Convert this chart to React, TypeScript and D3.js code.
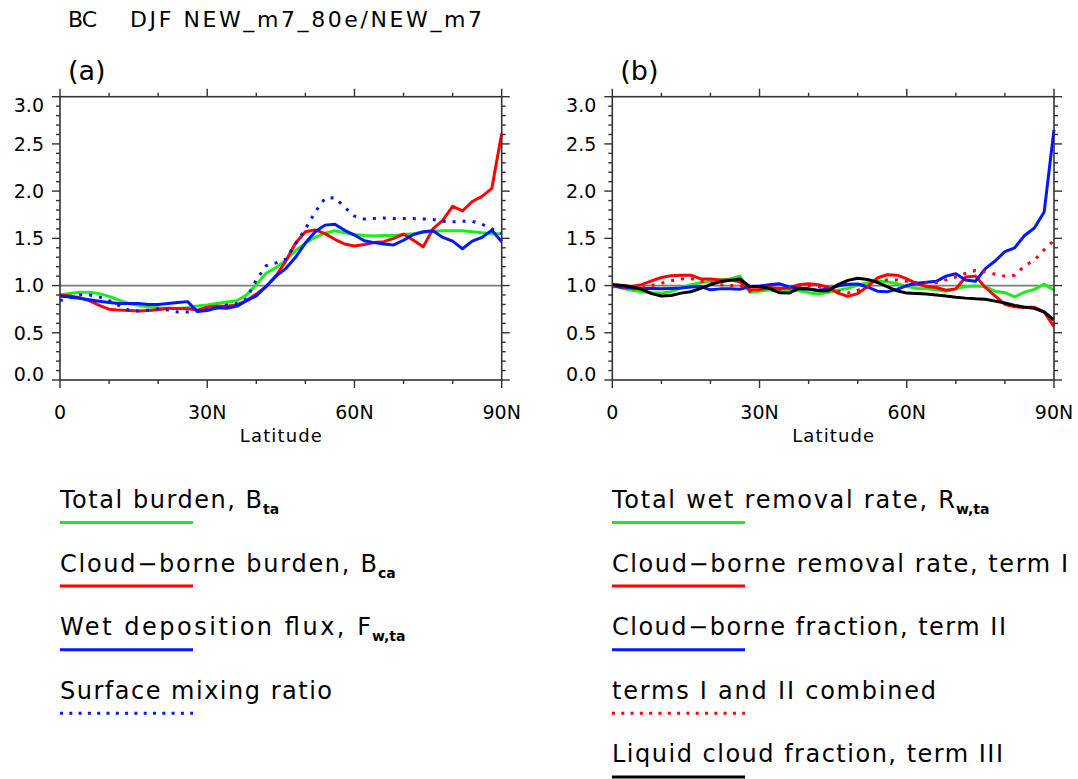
import React from 'react';
import * as d3 from 'd3';

// latitude grid (degrees N)
const lat = [0, 2, 4, 6, 8, 10, 12, 14, 16, 18, 20, 22, 24, 26, 28, 30, 32, 34, 36, 38, 40, 42, 44,
  46, 48, 50, 52, 54, 56, 58, 60, 62, 64, 66, 68, 70, 72, 74, 76, 78, 80, 82, 84, 86, 88, 90];

// panel (a)
const totalBurden = [0.90, 0.915, 0.93, 0.93, 0.915, 0.885, 0.845, 0.81, 0.79, 0.775, 0.765, 0.758, 0.758,
  0.765, 0.785, 0.795, 0.81, 0.825, 0.84, 0.90, 1.01, 1.13, 1.19, 1.27, 1.37, 1.45, 1.51, 1.555, 1.58,
  1.56, 1.54, 1.53, 1.525, 1.53, 1.53, 1.54, 1.55, 1.565, 1.575, 1.58, 1.58, 1.58, 1.57, 1.56, 1.55, 1.55];
const cloudBurden = [0.90, 0.89, 0.87, 0.84, 0.79, 0.75, 0.74, 0.735, 0.73, 0.735, 0.745, 0.76, 0.758,
  0.755, 0.74, 0.77, 0.78, 0.78, 0.795, 0.84, 0.91, 0.99, 1.10, 1.26, 1.45, 1.57, 1.59, 1.55, 1.49,
  1.44, 1.42, 1.435, 1.455, 1.465, 1.50, 1.545, 1.48, 1.41, 1.60, 1.69, 1.84, 1.79, 1.89, 1.945, 2.03, 2.61];
const wetDepFlux = [0.89, 0.88, 0.865, 0.85, 0.835, 0.82, 0.81, 0.81, 0.81, 0.80, 0.80, 0.81, 0.82,
  0.83, 0.725, 0.735, 0.765, 0.76, 0.78, 0.84, 0.89, 0.99, 1.10, 1.18, 1.30, 1.45, 1.57, 1.64, 1.65,
  1.585, 1.535, 1.475, 1.455, 1.44, 1.43, 1.48, 1.54, 1.57, 1.58, 1.51, 1.47, 1.39, 1.47, 1.51, 1.585, 1.465];
const surfaceMix = [0.84, 0.87, 0.90, 0.90, 0.88, 0.84, 0.79, 0.74, 0.73, 0.74, 0.755, 0.74, 0.72,
  0.72, 0.73, 0.745, 0.765, 0.795, 0.81, 0.86, 1.06, 1.21, 1.24, 1.28, 1.44, 1.60, 1.78, 1.925, 1.93,
  1.83, 1.735, 1.705, 1.71, 1.715, 1.71, 1.71, 1.71, 1.705, 1.70, 1.68, 1.675, 1.68, 1.68, 1.65, 1.60, 1.55];

// panel (b)
const totalWetRate = [1.00, 0.97, 0.95, 0.935, 0.925, 0.92, 0.935, 0.975, 1.01, 1.03, 1.045, 1.06, 1.07,
  1.10, 0.93, 0.94, 0.955, 0.935, 0.95, 0.945, 0.925, 0.91, 0.93, 0.95, 0.97, 1.005, 1.03, 1.05, 1.04,
  1.02, 0.99, 0.97, 0.965, 0.955, 0.94, 0.965, 0.99, 0.995, 0.99, 0.94, 0.925, 0.88, 0.93, 0.96, 1.015, 0.95];
const termI = [1.01, 1.00, 0.99, 1.01, 1.05, 1.085, 1.105, 1.11, 1.11, 1.07, 1.07, 1.06, 1.06,
  1.04, 0.955, 0.955, 0.98, 0.97, 0.975, 1.01, 1.02, 1.01, 0.98, 0.92, 0.885, 0.915, 0.99, 1.08, 1.115,
  1.11, 1.07, 1.02, 0.99, 0.98, 0.95, 0.965, 1.09, 1.10, 0.98, 0.89, 0.80, 0.775, 0.77, 0.77, 0.72, 0.565];
const termII = [1.00, 0.98, 0.975, 0.97, 0.97, 0.965, 0.97, 0.975, 0.985, 0.99, 0.955, 0.965, 0.965,
  0.96, 0.99, 0.995, 1.01, 1.02, 0.985, 0.97, 0.96, 0.95, 0.965, 0.995, 1.013, 1.017, 0.985, 0.94, 0.935,
  0.96, 1.00, 1.025, 1.035, 1.045, 1.10, 1.125, 1.06, 1.045, 1.18, 1.26, 1.36, 1.40, 1.53, 1.61, 1.78, 2.65];
const termsIandII = [0.99, 0.98, 0.965, 0.97, 1.00, 1.025, 1.05, 1.07, 1.075, 1.05, 1.03, 1.01, 1.00,
  1.00, 0.94, 0.97, 0.97, 0.96, 0.97, 0.99, 1.00, 0.99, 0.97, 0.94, 0.92, 0.95, 0.99, 1.04, 1.06,
  1.06, 1.045, 1.03, 1.03, 1.03, 1.06, 1.09, 1.13, 1.16, 1.15, 1.12, 1.10, 1.11, 1.21, 1.27, 1.38, 1.48];
const termIII = [1.01, 1.00, 0.985, 0.96, 0.915, 0.89, 0.895, 0.92, 0.935, 0.97, 1.01, 1.04, 1.055,
  1.07, 0.99, 0.99, 0.97, 0.925, 0.92, 0.97, 0.965, 0.945, 0.945, 1.01, 1.055, 1.077, 1.065, 1.035, 0.99,
  0.945, 0.92, 0.915, 0.91, 0.90, 0.89, 0.877, 0.867, 0.86, 0.856, 0.835, 0.815, 0.79, 0.77, 0.76, 0.72, 0.635];

const xTickLabels = ['0', '30N', '60N', '90N'];
const yTickLabels = ['0.0', '0.5', '1.0', '1.5', '2.0', '2.5', '3.0'];

const legendA = ['Total burden, B', 'Cloud\u2212borne burden, B', 'Wet deposition flux, F', 'Surface mixing ratio'];
const legendASub = ['ta', 'ca', 'w,ta', ''];
const legendB = ['Total wet removal rate, R', 'Cloud\u2212borne removal rate, term I',
  'Cloud\u2212borne fraction, term II', 'terms I and II combined', 'Liquid cloud fraction, term III'];
const legendBSub = ['w,ta', '', '', '', ''];

const GREEN = '#1aee1a';
const RED = '#ff0000';
const BLUE = '#0018ff';
const BLACK = '#000000';

const seriesA = [
  { values: totalBurden, color: GREEN, dotted: false },
  { values: cloudBurden, color: RED, dotted: false },
  { values: wetDepFlux, color: BLUE, dotted: false },
  { values: surfaceMix, color: BLUE, dotted: true },
];
const seriesB = [
  { values: totalWetRate, color: GREEN, dotted: false },
  { values: termI, color: RED, dotted: false },
  { values: termII, color: BLUE, dotted: false },
  { values: termsIandII, color: RED, dotted: true },
  { values: termIII, color: BLACK, dotted: false },
];

// layout
const FONT = "'DejaVu Sans', Verdana, sans-serif";
const PW = 441.7;
const TOP = 96.7;
const BOTTOM = 380;
const AXIS = '#333';

const yScale = d3.scaleLinear().domain([0, 3]).range([BOTTOM, TOP]);

// widths of the legend strings in the original (stroke font is wider than DejaVu)
const legendAWidths = [202, 317, 311, 272];
const legendBWidths = [343, 456, 394, 324, 391];

function Panel({ x0, series, tag }: { x0: number; series: typeof seriesA; tag: string }) {
  const xScale = d3.scaleLinear().domain([0, 90]).range([x0, x0 + PW]);
  const line = d3.line<number>()
    .x((_, i) => xScale(lat[i]))
    .y(d => yScale(d));

  const xt = d3.range(0, 91, 10);
  const yt = d3.range(0, 31);

  return (
    <g>
      <text x={x0 + 8} y={79.5} fontSize={27} fontFamily={FONT}>{tag}</text>

      {/* reference line */}
      <line x1={x0} x2={x0 + PW} y1={yScale(1)} y2={yScale(1)} stroke="#7a7a7a" strokeWidth={1.8} />

      {series.map((s, i) => (
        <path key={i} d={line(s.values) || ''} fill="none" stroke={s.color}
          strokeWidth={3} strokeLinejoin="round"
          strokeDasharray={s.dotted ? '3 7' : undefined} />
      ))}

      {/* frame */}
      <rect x={x0} y={TOP} width={PW} height={BOTTOM - TOP} fill="none" stroke={AXIS} strokeWidth={1.6} />

      {xt.map(d => {
        const len = d % 30 === 0 ? 8 : 4;
        const x = xScale(d);
        return (
          <g key={'x' + d}>
            <line x1={x} x2={x} y1={BOTTOM} y2={BOTTOM + len} stroke={AXIS} strokeWidth={1.4} />
            <line x1={x} x2={x} y1={TOP} y2={TOP - len} stroke={AXIS} strokeWidth={1.4} />
          </g>
        );
      })}
      {yt.map(i => {
        const len = i % 5 === 0 ? 8 : 4;
        const y = yScale(i / 10);
        return (
          <g key={'y' + i}>
            <line x1={x0} x2={x0 - len} y1={y} y2={y} stroke={AXIS} strokeWidth={1.4} />
            <line x1={x0 + PW} x2={x0 + PW + len} y1={y} y2={y} stroke={AXIS} strokeWidth={1.4} />
          </g>
        );
      })}

      {yTickLabels.map((t, i) => {
        let y = yScale(i * 0.5);
        if (i === 0) y -= 6;
        if (i === yTickLabels.length - 1) y += 8;
        return (
          <text key={t} x={x0 - 16} y={y} dy="0.36em" textAnchor="end" fontSize={19} fontFamily={FONT}>{t}</text>
        );
      })}
      {xTickLabels.map((t, i) => (
        <text key={t} x={xScale(i * 30)} y={419} textAnchor="middle" fontSize={19} fontFamily={FONT}>{t}</text>
      ))}
      <text x={x0 + PW / 2} y={442} textAnchor="middle" fontSize={18} fontFamily={FONT}
        textLength={82} lengthAdjust="spacing">Latitude</text>
    </g>
  );
}

function Legend({ x0, labels, subs, widths, series }:
  { x0: number; labels: string[]; subs: string[]; widths: number[]; series: typeof seriesA }) {
  return (
    <g>
      {labels.map((lab, i) => {
        const base = 508 + i * 63.6;
        const s = series[i];
        return (
          <g key={lab}>
            <text x={x0} y={base} fontSize={24} fontFamily={FONT} textLength={widths[i]}
              lengthAdjust="spacing">{lab}</text>
            {subs[i] && (
              <text x={x0 + widths[i] + 1} y={base + 6} fontSize={14} fontWeight="bold"
                fontFamily={FONT}>{subs[i]}</text>
            )}
            <line x1={x0} x2={x0 + 133} y1={base + 14.5} y2={base + 14.5} stroke={s.color}
              strokeWidth={3} strokeDasharray={s.dotted ? '3 6.3' : undefined} />
          </g>
        );
      })}
    </g>
  );
}

export default function App() {
  return (
    <svg width={1078} height={779} style={{ position: 'absolute', left: 0, top: 0, background: '#fff' }}>
      <rect width={1078} height={779} fill="#fff" />
      <text x={68} y={27} fontSize={22} fontFamily={FONT} textLength={29} lengthAdjust="spacing">BC</text>
      <text x={130} y={27} fontSize={22} fontFamily={FONT} textLength={352}
        lengthAdjust="spacing">DJF NEW_m7_80e/NEW_m7</text>

      <Panel x0={60} series={seriesA} tag="(a)" />
      <Panel x0={612.3} series={seriesB} tag="(b)" />

      <Legend x0={60} labels={legendA} subs={legendASub} widths={legendAWidths} series={seriesA} />
      <Legend x0={612} labels={legendB} subs={legendBSub} widths={legendBWidths} series={seriesB} />
    </svg>
  );
}
